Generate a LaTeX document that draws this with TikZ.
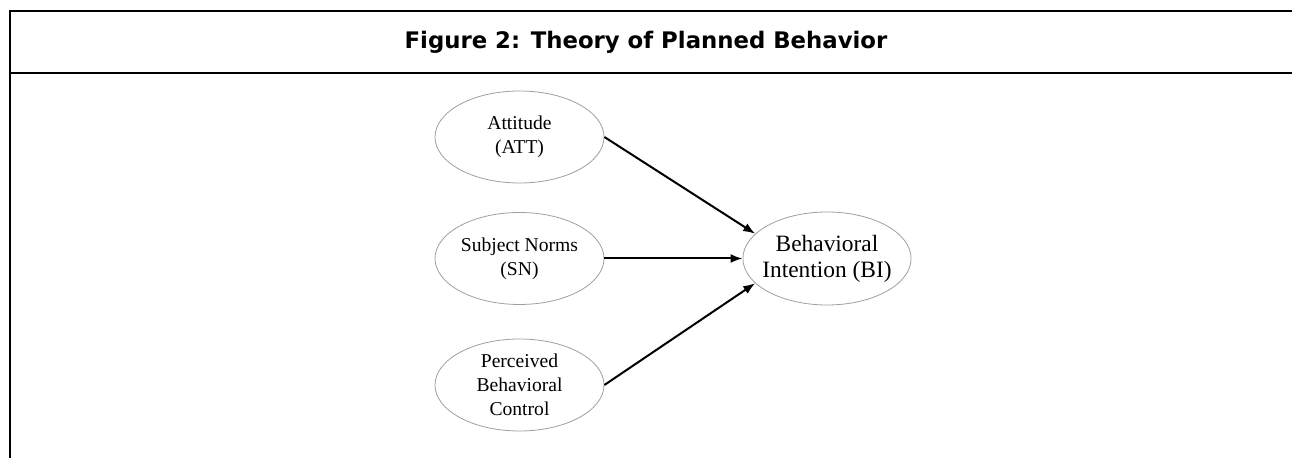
\documentclass[tikz,border=0pt]{standalone}
\usepackage{fontspec}
\setmainfont{Liberation Serif}
\newfontfamily\headfont{DejaVu Sans}
\usetikzlibrary{arrows.meta,positioning,shapes.geometric}

\begin{document}
\begin{tikzpicture}[x=0.5pt,y=-0.5pt,
  construct/.style={ellipse,draw=gray!75,line width=0.4pt,inner sep=0pt,
    minimum width=84.5pt,minimum height=46pt,align=center,
    font=\fontsize{9.8}{12}\selectfont},
  link/.style={line width=1pt,-{Latex[length=6pt,width=4.5pt]}}]
  \useasboundingbox (0,0) rectangle (1292,458);
  \draw[line width=1pt] (1292,11) -- (9.5,11) -- (9.5,458);
  \draw[line width=1pt] (9.5,73.5) -- (1292,73.5);
  \node (title) at (646,42.5) {\headfont\bfseries\fontsize{11.4}{13}\selectfont Figure 2: Theory of Planned Behavior};
  \node[construct] (att) at (519.5,137) {Attitude\\(ATT)};
  \node[construct] (sn) at (519.5,258.5) {Subject Norms\\(SN)};
  \node[construct] (pbc) at (519.5,385) {Perceived\\Behavioral\\Control};
  \node[construct,inner xsep=-2.6pt,minimum width=84pt,minimum height=46.5pt,
    font=\fontsize{11.7}{13}\selectfont] (bi) at (827,258.5) {Behavioral\\Intention (BI)};
  \draw[link] (att.east) -- (bi.161);
  \draw[link] (sn.east) -- (bi.west);
  \draw[link] (pbc.east) -- (bi.199);
\end{tikzpicture}
\end{document}
